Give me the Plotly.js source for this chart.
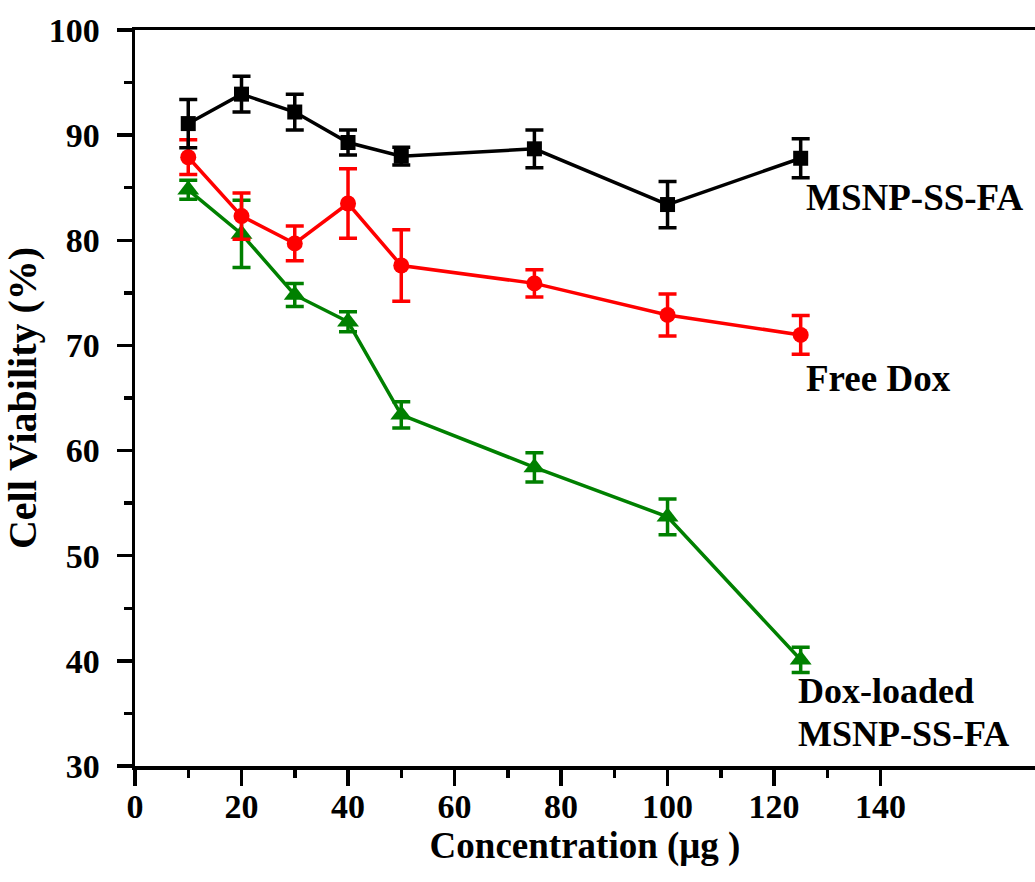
<!DOCTYPE html>
<html>
<head>
<meta charset="utf-8">
<script src="https://cdn.plot.ly/plotly-3.0.1.min.js"></script>
<style>html,body{margin:0;padding:0;background:#fff;}#chart{width:1035px;height:882px;}</style>
</head>
<body>
<div id="chart"></div>
<script>
// Concentrations (µg)
const concentration = [10, 20, 30, 40, 50, 75, 100, 125];

// MSNP-SS-FA
const msnpMean = [91.1, 93.9, 92.2, 89.3, 88.0, 88.7, 83.4, 87.8];
const msnpErr  = [2.3, 1.7, 1.7, 1.2, 0.85, 1.8, 2.2, 1.85];

// Free Dox
const freeMean = [87.9, 82.3, 79.7, 83.5, 77.6, 75.9, 72.9, 71.0];
const freeErr  = [1.65, 2.2, 1.65, 3.3, 3.4, 1.3, 2.0, 1.85];

// Dox-loaded MSNP-SS-FA
const loadedMean = [84.8, 80.6, 74.8, 72.25, 63.4, 58.4, 53.7, 40.1];
const loadedErr  = [0.9, 3.2, 1.1, 0.95, 1.25, 1.4, 1.7, 1.2];

const xTicks = [0, 20, 40, 60, 80, 100, 120, 140];
const xMinor = [10, 30, 50, 70, 90, 110, 130];
const yTicks = [30, 40, 50, 60, 70, 80, 90, 100];
const yMinor = [35, 45, 55, 65, 75, 85, 95];

const labelMsnp = 'MSNP-SS-FA';
const labelFree = 'Free Dox';
const labelLoadedLines = ['Dox-loaded', 'MSNP-SS-FA'];

const FONT = 'Liberation Serif, Times New Roman, serif';

function trace(y, err, color, symbol, size, name) {
  return {
    x: concentration, y: y, name: name, type: 'scatter', mode: 'lines+markers',
    line: {color: color, width: 3.5},
    marker: {color: color, symbol: symbol, size: size},
    error_y: {type: 'data', array: err, visible: true, color: color, thickness: 3.5, width: 9},
    cliponaxis: false
  };
}

const data = [
  trace(loadedMean, loadedErr, '#008000', 'triangle-up', 19, 'Dox-loaded MSNP-SS-FA'),
  trace(freeMean, freeErr, '#ff0000', 'circle', 16, 'Free Dox'),
  trace(msnpMean, msnpErr, '#000000', 'square', 15, 'MSNP-SS-FA')
];

const labelFont = {family: FONT, size: 37, weight: 'bold', color: '#000'};
const labelFont2 = {family: FONT, size: 36, weight: 'bold', color: '#000'};

const layout = {
  width: 1035, height: 882,
  margin: {l: 135, r: 0, t: 30, b: 116},
  paper_bgcolor: '#fff', plot_bgcolor: '#fff',
  showlegend: false,
  font: {family: FONT, color: '#000'},
  xaxis: {
    range: [0, 169], showgrid: false, zeroline: false,
    showline: true, linecolor: '#000', linewidth: 3.5, mirror: true,
    ticks: 'outside', ticklen: 16, tickwidth: 3.5, tickcolor: '#000',
    tickvals: xTicks, ticktext: xTicks.map(String),
    tickfont: {family: FONT, size: 34, weight: 'bold', color: '#000'},
    ticklabelstandoff: -8,
    minor: {tickvals: xMinor, ticks: 'outside', ticklen: 8, tickwidth: 3.5, tickcolor: '#000', showgrid: false},
    title: {text: 'Concentration (μg )', font: {family: FONT, size: 37, weight: 'bold', color: '#000'}, standoff: 8}
  },
  yaxis: {
    range: [30, 100], showgrid: false, zeroline: false,
    showline: true, linecolor: '#000', linewidth: 3.5,
    ticks: 'outside', ticklen: 15, tickwidth: 3.5, tickcolor: '#000',
    tickvals: yTicks, ticktext: yTicks.map(String),
    tickfont: {family: FONT, size: 34, weight: 'bold', color: '#000'},
    ticklabelstandoff: 10,
    minor: {tickvals: yMinor, ticks: 'outside', ticklen: 8, tickwidth: 3.5, tickcolor: '#000', showgrid: false},
    title: {text: 'Cell Viability (%)', font: {family: FONT, size: 40, weight: 'bold', color: '#000'}, standoff: 14}
  },
  annotations: [
    {x: 125.6, y: 84.1, xref: 'x', yref: 'y', text: labelMsnp, showarrow: false, xanchor: 'left', yanchor: 'middle', font: labelFont},
    {x: 125.6, y: 66.9, xref: 'x', yref: 'y', text: labelFree, showarrow: false, xanchor: 'left', yanchor: 'middle', font: labelFont},
    {x: 124.3, y: 37.1, xref: 'x', yref: 'y', text: labelLoadedLines[0], showarrow: false, xanchor: 'left', yanchor: 'middle', font: labelFont2, borderpad: 0},
    {x: 124.3, y: 33.0, xref: 'x', yref: 'y', text: labelLoadedLines[1], showarrow: false, xanchor: 'left', yanchor: 'middle', font: labelFont2, borderpad: 0}
  ]
};

Plotly.newPlot('chart', data, layout, {staticPlot: true, displayModeBar: false});
</script>
</body>
</html>
